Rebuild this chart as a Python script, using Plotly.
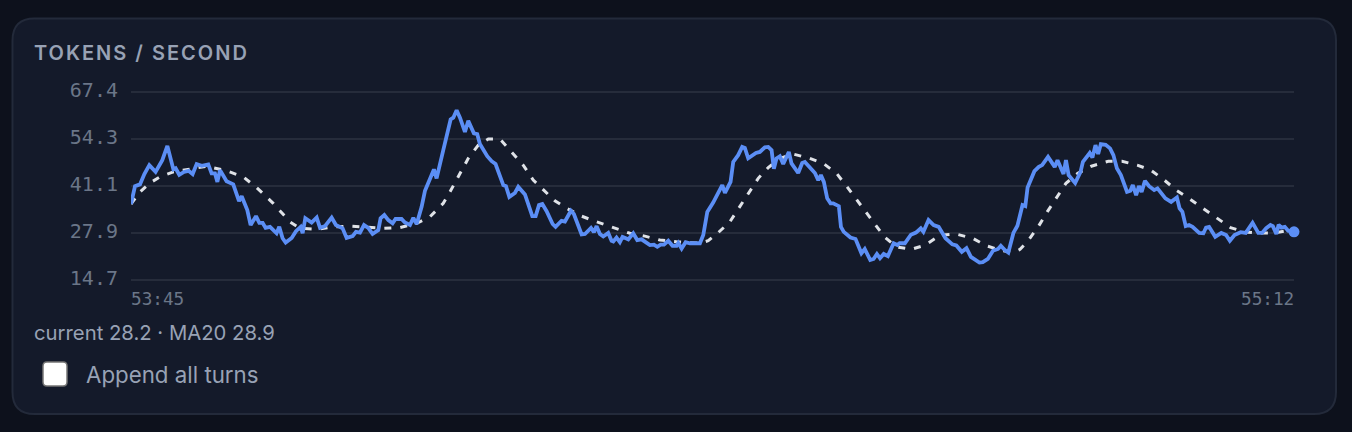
import plotly.graph_objects as go

WIDTH, HEIGHT = 1352, 432

# seconds since 53:45 and tokens per second
rate_t = [0, 0.30, 0.67, 1.00, 1.37, 1.84, 2.34, 2.72, 3.17, 3.34, 3.61, 3.96, 4.31, 4.61, 4.91, 5.29, 5.78, 6.03, 6.28, 6.46,
          6.66, 7.15, 7.65, 8.08, 8.28, 8.70, 8.95, 9.35, 9.60, 9.85, 10.07, 10.40, 10.89, 11.09, 11.34, 11.57, 12.02, 12.34, 12.69, 12.84,
          13.04, 13.51, 13.89, 14.14, 14.51, 15.01, 15.33, 15.83, 16.13, 16.58, 16.83, 17.13, 17.43, 17.75, 18.07, 18.50, 18.67, 18.95, 19.25, 19.57,
          19.79, 20.24, 20.49, 20.87, 21.12, 21.37, 21.74, 21.99, 22.66, 22.86,
          23.36, 23.91, 24.11, 24.36, 24.61, 24.98, 25.23, 25.65, 25.90, 26.10, 26.65, 26.98, 27.27, 27.85, 28.05, 28.30, 28.72, 28.97, 29.47, 30.02,
          30.27, 30.52, 30.77, 31.09, 31.54, 31.76, 32.21, 32.46, 32.91, 33.13, 33.71, 33.96, 34.41, 34.63, 34.83, 35.08, 35.33, 35.70, 35.95, 36.08,
          36.32, 36.57, 36.77, 37.20, 37.57, 37.87, 38.19, 38.82, 39.12, 39.37, 39.62, 39.87, 40.19, 40.51, 40.81, 40.94, 41.19, 41.49, 41.81, 42.56,
          42.81, 43.11, 43.55, 44.23, 44.43, 44.85, 45.05, 45.42, 45.72, 45.92, 46.17, 46.75, 47.04, 47.42, 47.67, 47.92, 48.09, 48.29, 48.54, 48.79,
          49.21, 49.41, 49.91, 50.21, 50.41, 51.16, 51.41, 51.61, 51.83, 52.08, 52.33, 52.53, 52.95, 53.11, 53.32, 53.82, 54.20, 54.64, 54.89, 55.30,
          55.55, 55.80, 56.03, 56.31, 56.62, 57.05, 57.33, 57.50, 57.89, 58.34, 58.72, 59.08, 59.28, 59.66, 60.04, 60.42, 60.93, 61.44, 61.74, 62.15,
          62.50, 62.83, 63.47, 63.72, 64.10, 64.48, 64.86, 65.07, 65.37, 65.63, 66.01, 66.31, 66.69, 66.90, 67.07, 67.58, 67.91, 68.16, 68.60, 69.10,
          69.31, 69.76, 69.94, 70.14, 70.63, 71.03, 71.21, 71.72, 71.92, 72.15, 72.35, 72.55, 72.91, 73.24, 73.49, 73.75, 74.05, 74.51, 74.76, 74.94,
          75.19, 75.40, 75.60, 75.85, 76.16, 76.54, 76.79, 77.38, 77.81, 78.24, 78.44, 78.65, 78.90, 79.15, 79.41, 79.91, 80.22, 80.42, 80.65, 81.11,
          81.56, 81.92, 82.20, 82.55, 83.01, 83.39, 83.90, 84.33, 84.61, 84.92, 85.24, 85.42, 85.68, 85.85, 86.06, 86.31, 86.56, 87.0]
rate_v = [36.0, 41.0, 41.5, 44.4, 46.9, 45.0, 48.3, 52.3, 45.7, 46.0, 44.2, 45.0, 45.3, 44.4, 47.2, 46.7, 47.1, 44.6, 44.6, 42.2,
          45.5, 42.4, 41.5, 36.8, 38.2, 34.3, 30.1, 32.6, 30.7, 30.7, 29.3, 29.6, 27.8, 29.6, 26.4, 25.2, 26.5, 28.4, 29.6, 27.8,
          32.0, 30.8, 32.2, 29.3, 29.8, 32.2, 30.1, 29.2, 26.5, 27.0, 28.2, 28.0, 30.1, 29.3, 27.6, 28.7, 32.0, 32.9, 31.5, 30.6,
          31.8, 31.8, 30.8, 30.1, 32.1, 30.4, 35.2, 39.7, 45.7, 43.2,
          51.1, 59.7, 60.2, 62.3, 60.2, 56.2, 59.3, 55.8, 55.6, 52.8, 49.4, 48.0, 47.2, 41.3, 41.0, 38.0, 39.1, 40.8, 38.7, 32.6,
          32.6, 35.7, 36.0, 34.0, 30.4, 29.6, 31.3, 31.1, 34.1, 33.2, 27.5, 27.6, 29.3, 28.1, 29.8, 27.6, 26.9, 27.9, 25.7, 25.5,
          26.6, 25.3, 26.8, 26.1, 27.8, 25.9, 26.1, 24.5, 24.6, 24.0, 24.6, 24.6, 25.7, 24.3, 24.3, 25.1, 23.5, 25.3, 25.0, 25.0,
          27.3, 33.8, 36.4, 41.3, 39.1, 42.2, 47.8, 49.7, 52.0, 51.7, 48.8, 50.3, 50.6, 51.9, 52.0, 51.1, 45.9, 48.8, 49.4, 47.2,
          50.6, 47.4, 44.7, 47.5, 47.8, 44.7, 42.7, 44.1, 42.2, 37.6, 36.2, 36.2, 35.4, 29.6, 28.2, 26.6, 26.2, 22.2, 23.4, 20.3,
          20.6, 22.0, 20.8, 22.0, 21.4, 25.0, 24.5, 25.0, 25.0, 27.4, 28.0, 29.2, 28.2, 31.5, 30.1, 29.6, 26.4, 24.7, 24.4, 22.6,
          23.6, 21.2, 19.6, 19.7, 20.6, 22.9, 23.4, 24.3, 23.1, 22.4, 27.9, 29.9, 35.7, 35.4, 40.6, 45.2, 46.4, 46.9, 49.2, 46.4,
          48.3, 44.4, 48.3, 44.1, 41.9, 45.0, 47.8, 50.3, 49.0, 52.5, 50.0, 52.8, 52.6, 51.6, 49.7, 46.0, 44.1, 39.4, 39.7, 41.3,
          38.5, 41.0, 39.4, 42.5, 41.0, 39.9, 40.4, 37.6, 36.6, 37.8, 34.8, 33.8, 29.8, 30.1, 29.6, 27.9, 27.8, 29.4, 29.6, 26.8,
          27.9, 27.3, 25.7, 27.3, 28.1, 27.9, 30.7, 27.9, 27.9, 29.2, 30.1, 29.8, 27.6, 30.2, 29.4, 29.6, 28.5, 28.2]

ma_t = [0, 0.67, 1.42, 2.17, 3.17, 4.41, 5.66, 7.15, 8.40, 9.40, 10.64, 11.89, 12.64, 13.89, 15.13, 16.38, 17.63, 18.87, 20.12, 21.37,
        22.36, 23.36, 23.86, 24.48, 25.23, 25.98, 26.73, 27.60, 28.47, 29.34, 30.09, 30.84, 31.71, 32.59, 33.71, 34.83, 36.08, 37.32, 38.44, 39.57,
        40.81, 42.56, 43.18, 43.93, 44.80, 45.55, 46.17, 46.92, 47.67, 48.54, 49.54, 50.78, 51.78, 52.78, 53.57, 54.20, 54.97, 55.60, 56.36, 57.25,
        58.39, 59.41, 60.55, 61.69, 62.96, 63.98, 64.99, 66.01, 66.51, 67.15, 67.91, 68.54, 69.18, 69.94, 70.83, 71.84, 73.11, 74.13, 75.27, 76.29,
        77.30, 78.19, 79.20, 80.22, 81.11, 82.25, 83.27, 84.28, 85.55, 87.0]
ma_v = [36.0, 39.4, 41.9, 43.6, 45.0, 45.9, 46.6, 45.3, 43.6, 40.6, 36.2, 31.0, 29.2, 28.9, 29.6, 29.8, 29.4, 29.2, 29.4, 30.6,
        32.4, 36.2, 39.4, 43.6, 48.8, 52.5, 54.2, 54.2, 50.6, 46.9, 42.7, 40.1, 36.9, 34.8, 32.6, 31.0, 29.4, 27.8, 27.0, 25.9,
        25.4, 25.0, 25.7, 28.0, 31.0, 35.2, 38.9, 43.2, 46.2, 48.8, 50.0, 48.8, 47.4, 44.6, 40.8, 37.6, 33.8, 30.4, 26.8, 24.0,
        23.3, 24.5, 27.3, 27.6, 26.4, 24.3, 23.1, 22.4, 23.3, 25.9, 29.9, 33.8, 37.6, 41.8, 44.6, 46.6, 48.0, 48.0, 46.9, 45.5,
        42.7, 39.9, 37.4, 34.8, 32.4, 29.4, 28.2, 27.9, 27.9, 28.9]

y_ticks = [14.7, 27.9, 41.1, 54.3, 67.4]
x_labels = ["53:45", "55:12"]
title = "TOKENS / SECOND"
status = "current 28.2 · MA20 28.9"
toggle = "Append all turns"

PAGE = "#0d111c"
CARD = "#141a2a"
BORDER = "#232a3a"
BLUE = "#5b8ef5"
TEXT = "#98a2b5"
MUTED = "#6b7688"
SANS = "Inter, Noto Sans, sans-serif"
MONO = "DejaVu Sans Mono, monospace"

# plotly drops gridlines on the range ends, so leave a little room on both
Y_PAD = 1.4
PAD_PX = 5


def rounded(x0, y0, x1, y1, r):
    """Rounded rectangle path, given in screen pixels, on paper coords"""
    def p(x, y):
        return f"{x / WIDTH:.5f},{1 - y / HEIGHT:.5f}"
    return (f"M{p(x0 + r, y0)} L{p(x1 - r, y0)} Q{p(x1, y0)} {p(x1, y0 + r)} "
            f"L{p(x1, y1 - r)} Q{p(x1, y1)} {p(x1 - r, y1)} "
            f"L{p(x0 + r, y1)} Q{p(x0, y1)} {p(x0, y1 - r)} "
            f"L{p(x0, y0 + r)} Q{p(x0, y0)} {p(x0 + r, y0)} Z")


def label(text, x, y, size, color, family=SANS, anchor="left", weight=None):
    # annotations carry 2px of box padding
    x = x - 2 if anchor == "left" else x + 2
    return dict(text=text, xref="paper", yref="paper", x=x / WIDTH, y=1 - y / HEIGHT,
                xanchor=anchor, yanchor="middle", showarrow=False,
                font=dict(family=family, size=size, color=color, weight=weight))


fig = go.Figure()
fig.add_trace(go.Scatter(x=ma_t, y=ma_v, mode="lines", hoverinfo="skip",
                         line=dict(color="#dfe2e7", width=3, dash="7px,9px")))
fig.add_trace(go.Scatter(x=rate_t, y=rate_v, mode="lines", hoverinfo="skip",
                         line=dict(color=BLUE, width=3.8)))
fig.add_trace(go.Scatter(x=rate_t[-1:], y=rate_v[-1:], mode="markers", hoverinfo="skip", cliponaxis=False,
                         marker=dict(color=BLUE, size=11)))

fig.update_layout(
    width=WIDTH, height=HEIGHT, showlegend=False,
    margin=dict(l=0, r=0, t=0, b=0, autoexpand=False),
    paper_bgcolor=PAGE, plot_bgcolor="rgba(0,0,0,0)",
    xaxis=dict(domain=[131 / WIDTH, 1294 / WIDTH], range=[0, 87], showgrid=False, zeroline=False,
               showticklabels=False, ticks=""),
    yaxis=dict(domain=[1 - (280 + PAD_PX) / HEIGHT, 1 - (92 - PAD_PX) / HEIGHT],
               range=[y_ticks[0] - Y_PAD, y_ticks[-1] + Y_PAD], tickvals=y_ticks,
               ticktext=[f"{v:.1f}" for v in y_ticks], showgrid=True, gridcolor="#262c3b", gridwidth=2,
               zeroline=False, showline=False, ticks="outside", ticklen=8, tickcolor="rgba(0,0,0,0)",
               ticklabelshift=-2, tickfont=dict(family=MONO, size=20, color=MUTED)),
    shapes=[
        dict(type="path", xref="paper", yref="paper", path=rounded(12.5, 18.5, 1336, 414, 22),
             fillcolor=CARD, line=dict(color=BORDER, width=2), layer="below"),
        dict(type="path", xref="paper", yref="paper", path=rounded(43, 362, 67, 386, 4),
             fillcolor="#ffffff", line=dict(color="#767676", width=1.5), layer="above"),
    ],
    annotations=[
        # the letter-spacing below grows both ways from the middle of the box
        label(title, 49, 53, 20, TEXT, weight=600),
        label(x_labels[0], 131, 299, 17.7, MUTED, family=MONO),
        label(x_labels[1], 1294, 299, 17.7, MUTED, family=MONO, anchor="right"),
        label(status, 34, 332, 20.3, TEXT),
        label(toggle, 86, 374, 22.3, TEXT),
    ],
)

# letter-spacing has no plotly attribute, set it on the drawn title
post = """
document.body.style.margin = '0';
document.body.style.background = '%s';
document.querySelectorAll('.annotation-text').forEach(function (t) {
    if (t.textContent === '%s') { t.style.letterSpacing = '2px'; }
});
""" % (PAGE, title)

fig.write_html("out.html", post_script=post, config={"displayModeBar": False})
